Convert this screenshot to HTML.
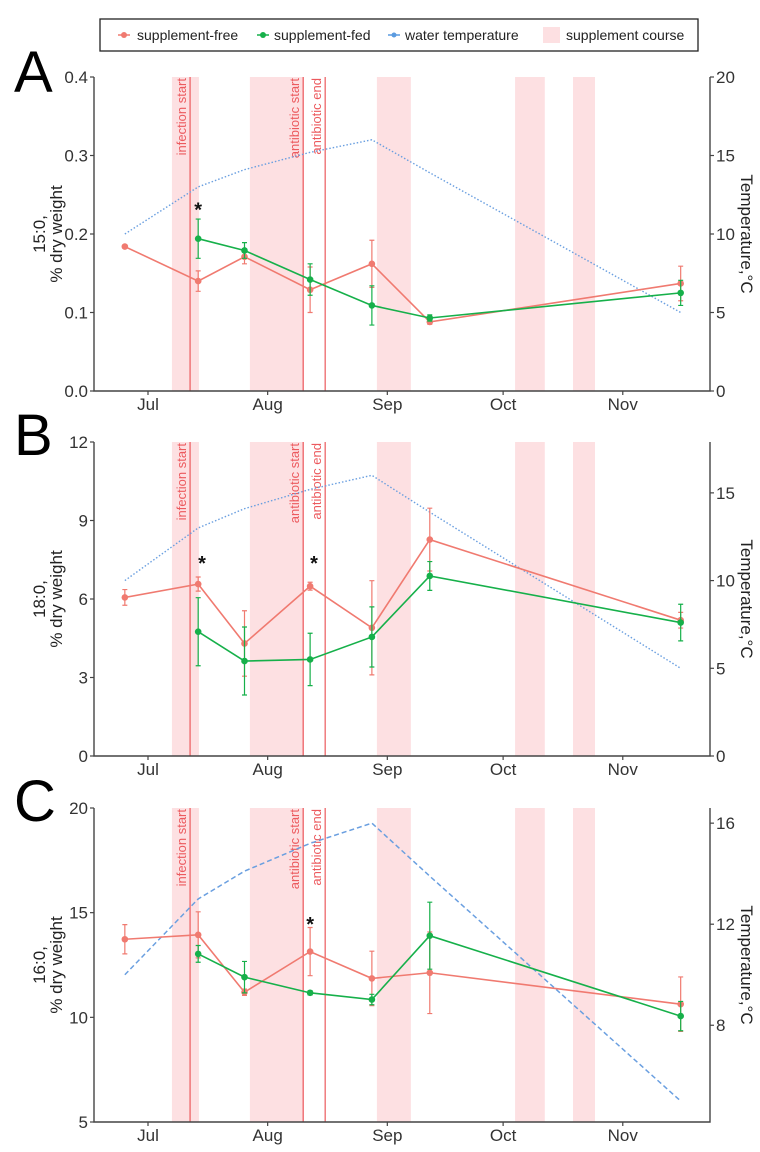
<!DOCTYPE html>
<html><head><meta charset="utf-8"><style>
body{margin:0;background:#fff;}
svg{display:block;font-family:"Liberation Sans",sans-serif;}
</style></head><body>
<svg id="fig" width="760" height="1152" viewBox="0 0 760 1152">
<g>
<rect x="100" y="19" width="598" height="32" fill="#fff" stroke="#222" stroke-width="1.3"/>
<g><line x1="118" y1="35" x2="130" y2="35" stroke="#f07a70" stroke-width="1.5"/><circle cx="124" cy="35" r="3" fill="#f07a70"/><text x="137" y="40" font-size="14" fill="#222">supplement-free</text></g>
<g><line x1="257" y1="35" x2="269" y2="35" stroke="#16b04a" stroke-width="1.5"/><circle cx="263" cy="35" r="3" fill="#16b04a"/><text x="274" y="40" font-size="14" fill="#222">supplement-fed</text></g>
<g><line x1="388" y1="35" x2="400" y2="35" stroke="#5b9be0" stroke-width="1.5"/><circle cx="394" cy="35" r="2.5" fill="#5b9be0"/><text x="405" y="40" font-size="14" fill="#222">water temperature</text></g>
<g><rect x="543" y="27" width="17" height="16" fill="#fde0e2"/><text x="566" y="40" font-size="14" fill="#222">supplement course</text></g>
</g>
</svg>
<script>
// shared x data (day of year)
const sampleDays = [176, 195, 207, 224, 240, 255, 320];
const tempValues = [10, 13, 14.1, 15.2, 16, 13.9, 5];
const courseStarts = [188.2, 208.4, 241.3, 277.1, 292.1];
const courseEnds = [195.2, 222.4, 250.1, 284.8, 297.8];
const eventDays = [192.9, 222.2, 227.9];
const eventLabels = ["infection start", "antibiotic start", "antibiotic end"];
const monthDays = [182, 213, 244, 274, 305];
const monthLabels = ["Jul", "Aug", "Sep", "Oct", "Nov"];

// panel A (15:0)
const aFree = [0.184, 0.140, 0.171, 0.129, 0.162, 0.088, 0.137];
const aFreeErr = [0.002, 0.013, 0.009, 0.029, 0.030, 0.003, 0.022];
const aFedDays = [195, 207, 224, 240, 255, 320];
const aFed = [0.194, 0.179, 0.142, 0.109, 0.093, 0.125];
const aFedErr = [0.025, 0.010, 0.020, 0.025, 0.004, 0.016];
const aTicks = [0, 0.1, 0.2, 0.3, 0.4];
const aTickLabels = ["0.0", "0.1", "0.2", "0.3", "0.4"];
const aTempTicks = [0, 5, 10, 15, 20];
const aStars = [195];
const aStarVals = [0.235];

// panel B (18:0)
const bFree = [6.06, 6.57, 4.30, 6.49, 4.90, 8.27, 5.19];
const bFreeErr = [0.3, 0.27, 1.25, 0.15, 1.8, 1.2, 0.3];
const bFedDays = [195, 207, 224, 240, 255, 320];
const bFed = [4.75, 3.63, 3.69, 4.55, 6.88, 5.10];
const bFedErr = [1.3, 1.3, 1.0, 1.15, 0.55, 0.7];
const bTicks = [0, 3, 6, 9, 12];
const bTickLabels = ["0", "3", "6", "9", "12"];
const bTempTicks = [0, 5, 10, 15];
const bStars = [196, 225];
const bStarVals = [7.5, 7.5];

// panel C (16:0)
const cFree = [13.73, 13.94, 11.20, 13.14, 11.86, 12.13, 10.63];
const cFreeErr = [0.7, 1.1, 0.15, 1.15, 1.3, 1.95, 1.3];
const cFedDays = [195, 207, 224, 240, 255, 320];
const cFed = [13.03, 11.92, 11.17, 10.85, 13.90, 10.06];
const cFedErr = [0.4, 0.75, 0.1, 0.25, 1.6, 0.7];
const cTicks = [5, 10, 15, 20];
const cTickLabels = ["5", "10", "15", "20"];
const cTempTicks = [8, 12, 16];
const cStars = [224];
const cStarVals = [14.6];

const NS = "http://www.w3.org/2000/svg";
const svg = document.getElementById("fig");
const X0 = 94, X1 = 710;
function xs(d){ return 148 + (d - 182) * 3.86; }
function mk(tag, attrs, parent){ const e = document.createElementNS(NS, tag); for (const k in attrs) e.setAttribute(k, attrs[k]); (parent||svg).appendChild(e); return e; }

const RED = "#f07a70", GREEN = "#16b04a", BLUE = "#6a9fe0", VLINE = "#ec5a5e";

function panel(cfg){
  const g = mk("g", {});
  
  
  const ys = v => cfg.top + (cfg.yMax - v) / (cfg.yMax - cfg.yMin) * (cfg.bot - cfg.top);
  const ts = v => cfg.top + (cfg.tMax - v) / (cfg.tMax - cfg.tMin) * (cfg.bot - cfg.top);
  for (let i = 0; i < courseStarts.length; i++){
    const r = mk("rect", {x: xs(courseStarts[i]), y: cfg.top, width: xs(courseEnds[i]) - xs(courseStarts[i]), height: cfg.bot - cfg.top, fill: "#fde0e2"}, g);
    
    
  }
  for (let i = 0; i < eventDays.length; i++){
    const x = xs(eventDays[i]);
    const l = mk("line", {x1: x, y1: cfg.top, x2: x, y2: cfg.bot, stroke: VLINE, "stroke-width": 1.2}, g);
    
    
    const t = mk("text", {x: 0, y: 0, "font-size": 13, fill: VLINE, "text-anchor": "end", transform: `translate(${x - 4},${cfg.top + 1}) rotate(-90)`}, g);
    t.textContent = eventLabels[i];
    
    
  }
  const tp = sampleDays.map((d, i) => `${xs(d)},${ts(tempValues[i])}`).join(" ");
  const tl = mk("polyline", {points: tp, fill: "none", stroke: BLUE, "stroke-width": cfg.dash ? 1.5 : 1.4, "stroke-dasharray": cfg.dash ? "5,3" : "1.5,2"}, g);
  
  
  function series(days, vals, errs, color, nm){
    const p = mk("polyline", {points: days.map((d, i) => `${xs(d)},${ys(vals[i])}`).join(" "), fill: "none", stroke: color, "stroke-width": 1.6}, g);
    
    
    days.forEach((d, i) => {
      const x = xs(d), y1 = ys(vals[i] + errs[i]), y2 = ys(vals[i] - errs[i]);
      const e = mk("path", {d: `M${x},${y1}V${y2}M${x-2.5},${y1}h5M${x-2.5},${y2}h5`, stroke: color, "stroke-width": 1.2, fill: "none"}, g);
      
      
      const c = mk("circle", {cx: x, cy: ys(vals[i]), r: 3.3, fill: color}, g);
      
      
    });
  }
  series(sampleDays, cfg.free, cfg.freeErr, RED, 'supplement-free');
  series(cfg.fedDays, cfg.fed, cfg.fedErr, GREEN, 'supplement-fed');
  cfg.stars.forEach((d, i) => {
    const s = mk("text", {x: xs(d), y: ys(cfg.starVals[i]) + 10, "font-size": 20, "font-weight": "bold", "text-anchor": "middle", fill: "#111"}, g);
    s.textContent = "*";
    
    
  });
  const ax = mk("path", {d: `M${X0},${cfg.top}V${cfg.bot}H${X1}V${cfg.top}`, fill: "none", stroke: "#444", "stroke-width": 1.4}, g);
  
  
  cfg.ticks.forEach((v, i) => {
    const y = ys(v);
    mk("line", {x1: X0 - 4, y1: y, x2: X0, y2: y, stroke: "#444", "stroke-width": 1.2}, g);
    const t = mk("text", {x: X0 - 6, y: y + 6, "font-size": 17, "text-anchor": "end", fill: "#333"}, g);
    t.textContent = cfg.tickLabels[i];
    
    
  });
  cfg.tTicks.forEach(v => {
    const y = ts(v);
    mk("line", {x1: X1, y1: y, x2: X1 + 4, y2: y, stroke: "#444", "stroke-width": 1.2}, g);
    const t = mk("text", {x: X1 + 6, y: y + 6, "font-size": 17, fill: "#333"}, g);
    t.textContent = String(v);
    
    
  });
  monthDays.forEach((d, i) => {
    const x = xs(d);
    mk("line", {x1: x, y1: cfg.bot, x2: x, y2: cfg.bot + 4, stroke: "#444", "stroke-width": 1.2}, g);
    const t = mk("text", {x: x, y: cfg.bot + 19, "font-size": 17, "text-anchor": "middle", fill: "#333"}, g);
    t.textContent = monthLabels[i];
    
    
  });
  const mid = (cfg.top + cfg.bot) / 2 + cfg.titleOff;
  const yt = mk("text", {x: 0, y: 0, "font-size": 17, "text-anchor": "middle", fill: "#222", transform: `translate(45,${mid}) rotate(-90)`}, g);
  yt.innerHTML = `<tspan x="0" dy="0">${cfg.title}</tspan><tspan x="0" dy="17">% dry weight</tspan>`;
  
  
  const rt = mk("text", {x: 0, y: 0, "font-size": 17, "text-anchor": "middle", fill: "#222", transform: `translate(741,${mid}) rotate(90)`}, g);
  rt.textContent = "Temperature,°C";
  
  
  const L = mk("text", {x: 14, y: cfg.letterY, "font-size": 58, fill: "#000"}, g);
  L.textContent = cfg.letter;
  
  
}

panel({name: "panel-a-15-0", letter: "A", letterY: 92, top: 77, bot: 391, yMin: 0, yMax: 0.4, tMin: 0, tMax: 20,
  free: aFree, freeErr: aFreeErr, fedDays: aFedDays, fed: aFed, fedErr: aFedErr, ticks: aTicks, tickLabels: aTickLabels,
  tTicks: aTempTicks, stars: aStars, starVals: aStarVals, title: "15:0,", titleOff: 0, dash: false});
panel({name: "panel-b-18-0", letter: "B", letterY: 455, top: 442, bot: 756, yMin: 0, yMax: 12, tMin: 0, tMax: 17.9,
  free: bFree, freeErr: bFreeErr, fedDays: bFedDays, fed: bFed, fedErr: bFedErr, ticks: bTicks, tickLabels: bTickLabels,
  tTicks: bTempTicks, stars: bStars, starVals: bStarVals, title: "18:0,", titleOff: 0, dash: false});
panel({name: "panel-c-16-0", letter: "C", letterY: 821, top: 808, bot: 1122, yMin: 5, yMax: 20, tMin: 4.17, tMax: 16.6,
  free: cFree, freeErr: cFreeErr, fedDays: cFedDays, fed: cFed, fedErr: cFedErr, ticks: cTicks, tickLabels: cTickLabels,
  tTicks: cTempTicks, stars: cStars, starVals: cStarVals, title: "16:0,", titleOff: 0, dash: true});
</script>
</body></html>
